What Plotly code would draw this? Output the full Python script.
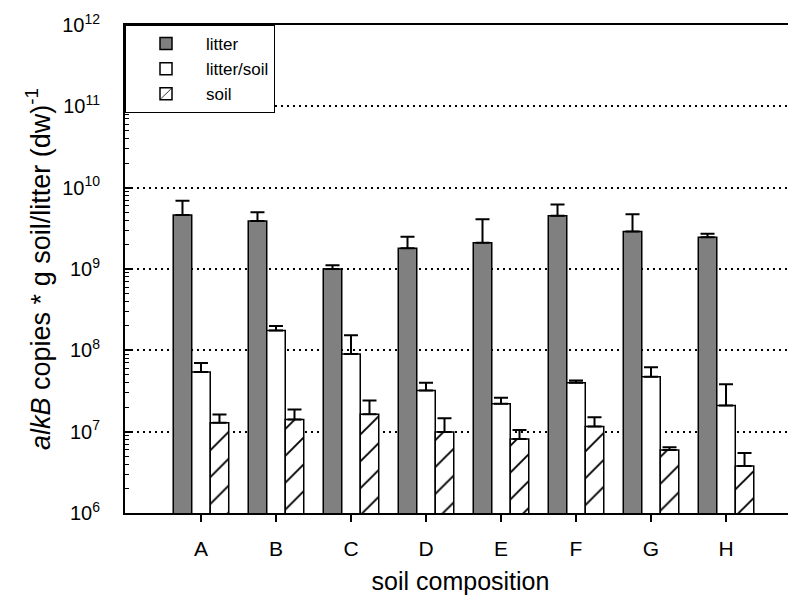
import plotly.graph_objects as go

categories = ["A", "B", "C", "D", "E", "F", "G", "H"]

litter = [4.6e9, 3.9e9, 1.0e9, 1.8e9, 2.1e9, 4.5e9, 2.9e9, 2.45e9]
litter_err = [2.3e9, 1.1e9, 0.11e9, 0.7e9, 2.0e9, 1.7e9, 1.8e9, 0.26e9]

litter_soil = [5.4e7, 1.75e8, 9.0e7, 3.2e7, 2.2e7, 4.0e7, 4.75e7, 2.1e7]
litter_soil_err = [1.6e7, 2.4e7, 6.3e7, 0.8e7, 0.42e7, 0.27e7, 1.43e7, 1.74e7]

soil = [1.29e7, 1.41e7, 1.64e7, 0.99e7, 0.81e7, 1.16e7, 0.595e7, 0.378e7]
soil_err = [0.34e7, 0.46e7, 0.77e7, 0.47e7, 0.24e7, 0.34e7, 0.048e7, 0.169e7]

ytick_vals = [1e6, 1e7, 1e8, 1e9, 1e10, 1e11, 1e12]
ytick_text = ["10<sup>%d</sup>" % e for e in range(6, 13)]
minor_vals = [k * 10 ** e for e in range(6, 12) for k in range(2, 10)]

FONT = "Arial, Liberation Sans, sans-serif"


def err(vals):
    return dict(type="data", symmetric=False, array=vals, arrayminus=[0] * len(vals),
                color="black", thickness=2, width=7)


fig = go.Figure()
fig.add_trace(go.Bar(
    name="litter", x=categories, y=litter, error_y=err(litter_err),
    marker=dict(color="#808080", line=dict(color="black", width=1.5)),
))
fig.add_trace(go.Bar(
    name="litter/soil", x=categories, y=litter_soil, error_y=err(litter_soil_err),
    marker=dict(color="white", line=dict(color="black", width=1.5)),
))
fig.add_trace(go.Bar(
    name="soil", x=categories, y=soil, error_y=err(soil_err),
    marker=dict(color="white", line=dict(color="black", width=1.5),
                pattern=dict(shape="/", fgcolor="black", bgcolor="white",
                             fgopacity=1, size=19, solidity=0.1)),
))

# page body has an 8px default margin; figure is sized to compensate
fig.update_layout(
    width=788, height=593,
    margin=dict(l=117, r=0, t=17, b=88),
    paper_bgcolor="white", plot_bgcolor="white",
    font=dict(family=FONT, size=16, color="black"),
    barmode="group", bargap=0.26, bargroupgap=0,
    showlegend=True,
    legend=dict(x=0.0, y=1.0, xanchor="left", yanchor="top",
                bordercolor="black", borderwidth=1, bgcolor="white",
                font=dict(size=17, family=FONT), tracegroupgap=0,
                itemwidth=70),
)
fig.update_xaxes(
    range=[-1.013, 7.933], automargin=False,
    showline=True, linecolor="black", linewidth=2, mirror=True,
    ticks="outside", ticklen=7, tickwidth=1.5, tickcolor="black",
    showgrid=False, zeroline=False,
    ticklabelstandoff=9,
    tickfont=dict(size=21, family=FONT),
    title=dict(text="soil composition", font=dict(size=25, family=FONT), standoff=13),
)
fig.update_yaxes(
    type="log", range=[6, 12], automargin=False,
    tickmode="array", tickvals=ytick_vals, ticktext=ytick_text,
    showline=True, linecolor="black", linewidth=2,
    ticks="inside", ticklen=8, tickwidth=1.5, tickcolor="black",
    minor=dict(tickmode="array", tickvals=minor_vals, ticks="inside", ticklen=4,
               tickwidth=1, tickcolor="black", showgrid=False),
    showgrid=True, gridcolor="black", gridwidth=1.5, griddash="2px,4px",
    zeroline=False,
    ticklabelstandoff=19,
    tickfont=dict(size=20, family=FONT),
    title=dict(text="<i>alkB</i> copies * g soil/litter (dw)<sup>-1</sup>",
               font=dict(size=27, family=FONT), standoff=4),
)

fig.write_html("out.html")
